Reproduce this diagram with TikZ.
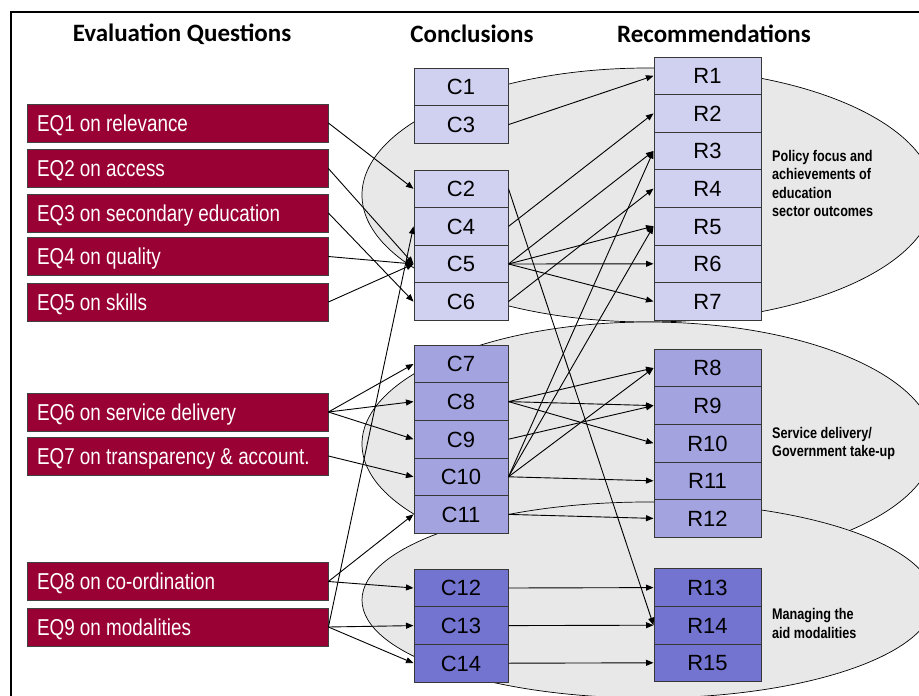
\documentclass[tikz,border=0pt]{standalone}
\usepackage{fontspec}
\setmainfont{Liberation Sans}
\newfontfamily\hdrfont{Carlito}
\newfontfamily\narrowfont{Liberation Sans}[FakeStretch=0.82]
\usetikzlibrary{arrows.meta}
\definecolor{eqred}{RGB}{153,0,51}
\definecolor{cA}{RGB}{208,208,240}
\definecolor{cB}{RGB}{163,163,224}
\definecolor{cC}{RGB}{115,115,208}
\definecolor{ellgray}{RGB}{232,232,232}
\definecolor{boxline}{RGB}{55,55,55}
\newcommand\eqlabel[1]{\makebox[281pt][l]{#1}}
\tikzset{
  header/.style={font=\hdrfont\bfseries\fontsize{25}{30}\selectfont, inner sep=0pt},
  eqbox/.style={draw=black!75, line width=0.8pt, fill=eqred, text=white,
    minimum width=301pt, minimum height=38pt, inner xsep=10pt, inner ysep=0pt,
    text height=16.4pt, text depth=0pt,
    font=\narrowfont\fontsize{23}{27}\selectfont},
  cellbox/.style={draw=boxline, line width=1pt, inner sep=0pt,
    text height=15.8pt, text depth=0pt,
    font=\fontsize{22}{26}\selectfont},
  cbox/.style={cellbox, minimum width=94pt, minimum height=37.6pt},
  rbox/.style={cellbox, minimum width=107pt, minimum height=37.6pt},
  area/.style={draw=black, line width=0.7pt, fill=ellgray},
  sidelabel/.style={anchor=west, inner sep=0pt, align=left,
    font=\narrowfont\bfseries\fontsize{15.4}{18.3}\selectfont},
  arr/.style={draw=black, line width=0.9pt, -{Triangle[length=7.5pt,width=6pt]}}
}
\begin{document}
\begin{tikzpicture}[x=1pt,y=-1pt]
\useasboundingbox (0,0) rectangle (919,696);
\begin{scope}
\clip (0,0) rectangle (919,696);
\fill[white] (0,0) rectangle (919,696);
\draw[line width=1.6pt] (10.8,11.8) rectangle (950,730);
% grouping areas
\path[area] (648,195) ellipse [x radius=286pt, y radius=127pt];
\path[area] (648,444) ellipse [x radius=286pt, y radius=122pt];
\path[area] (648,600) ellipse [x radius=286pt, y radius=98pt];
\end{scope}

% headers
\node[header] (hEQ) at (182,34) {Evaluation Questions};
\node[header] (hC) at (472,34) {Conclusions};
\node[header] (hR) at (714,34) {Recommendations};

% evaluation questions
\node[eqbox] (eq1) at (177.5,123) {\eqlabel{EQ1 on relevance}};
\node[eqbox] (eq2) at (177.5,168.5) {\eqlabel{EQ2 on access}};
\node[eqbox] (eq3) at (177.5,213) {\eqlabel{EQ3 on secondary education}};
\node[eqbox] (eq4) at (177.5,256.5) {\eqlabel{EQ4 on quality}};
\node[eqbox] (eq5) at (177.5,302) {\eqlabel{EQ5 on skills}};
\node[eqbox] (eq6) at (177.5,412) {\eqlabel{EQ6 on service delivery}};
\node[eqbox] (eq7) at (177.5,456) {\eqlabel{EQ7 on transparency \& account.}};
\node[eqbox] (eq8) at (177.5,581.5) {\eqlabel{EQ8 on co-ordination}};
\node[eqbox] (eq9) at (177.5,627) {\eqlabel{EQ9 on modalities}};

% conclusions
\node[cbox, fill=cA] (c1) at (461,87) {C1};
\node[cbox, fill=cA] (c3) at (461,124.6) {C3};
\node[cbox, fill=cA] (c2) at (461,188.8) {C2};
\node[cbox, fill=cA] (c4) at (461,226.4) {C4};
\node[cbox, fill=cA] (c5) at (461,264) {C5};
\node[cbox, fill=cA] (c6) at (461,301.6) {C6};
\node[cbox, fill=cB] (c7) at (461,364) {C7};
\node[cbox, fill=cB] (c8) at (461,401.6) {C8};
\node[cbox, fill=cB] (c9) at (461,439.2) {C9};
\node[cbox, fill=cB] (c10) at (461,476.8) {C10};
\node[cbox, fill=cB] (c11) at (461,514.4) {C11};
\node[cbox, fill=cC] (c12) at (461,588) {C12};
\node[cbox, fill=cC] (c13) at (461,625.6) {C13};
\node[cbox, fill=cC] (c14) at (461,663.2) {C14};

% recommendations
\node[rbox, fill=cA] (r1) at (707.5,75.8) {R1};
\node[rbox, fill=cA] (r2) at (707.5,113.4) {R2};
\node[rbox, fill=cA] (r3) at (707.5,151) {R3};
\node[rbox, fill=cA] (r4) at (707.5,188.6) {R4};
\node[rbox, fill=cA] (r5) at (707.5,226.2) {R5};
\node[rbox, fill=cA] (r6) at (707.5,263.8) {R6};
\node[rbox, fill=cA] (r7) at (707.5,301.4) {R7};
\node[rbox, fill=cB] (r8) at (707.5,368) {R8};
\node[rbox, fill=cB] (r9) at (707.5,405.6) {R9};
\node[rbox, fill=cB] (r10) at (707.5,443.2) {R10};
\node[rbox, fill=cB] (r11) at (707.5,480.8) {R11};
\node[rbox, fill=cB] (r12) at (707.5,518.4) {R12};
\node[rbox, fill=cC] (r13) at (707.5,587.6) {R13};
\node[rbox, fill=cC] (r14) at (707.5,625.2) {R14};
\node[rbox, fill=cC] (r15) at (707.5,662.8) {R15};

% side labels
\node[sidelabel] (l1) at (772,183.5) {Policy focus and\\achievements of\\education\\sector outcomes};
\node[sidelabel] (l2) at (772,443.5) {Service delivery/\\Government take-up};
\node[sidelabel] (l3) at (772,623.5) {Managing the\\aid modalities};

% EQ -> C
\draw[arr] (eq1.east) -- (c2.west);
\draw[arr] (eq2.east) -- (c5.west);
\draw[arr] (eq3.east) -- (c6.west);
\draw[arr] (eq4.east) -- (c5.west);
\draw[arr] (eq5.east) -- (c5.west);
\draw[arr] (eq6.east) -- (c7.west);
\draw[arr] (eq6.east) -- (c8.west);
\draw[arr] (eq6.east) -- (c9.west);
\draw[arr] (eq7.east) -- (c10.west);
\draw[arr] (eq8.east) -- (c11.west);
\draw[arr] (eq8.east) -- (c12.west);
\draw[arr] (eq9.east) -- (c4.west);
\draw[arr] (eq9.east) -- (c13.west);
\draw[arr] (eq9.east) -- (c14.west);

% C -> R
\draw[arr] (c3.east) -- (r1.west);
\draw[arr] (c4.east) -- (r2.west);
\draw[arr] (c5.east) -- (r3.west);
\draw[arr] (c5.east) -- (r5.west);
\draw[arr] (c5.east) -- (r6.west);
\draw[arr] (c5.east) -- (r7.west);
\draw[arr] (c6.east) -- (r4.west);
\draw[arr] (c2.east) -- (r14.west);
\draw[arr] (c8.east) -- (r8.west);
\draw[arr] (c8.east) -- (r9.west);
\draw[arr] (c8.east) -- (r10.west);
\draw[arr] (c9.east) -- (r9.west);
\draw[arr] (c10.east) -- (r8.west);
\draw[arr] (c10.east) -- (r3.west);
\draw[arr] (c10.east) -- (r5.west);
\draw[arr] (c10.east) -- (r11.west);
\draw[arr] (c11.east) -- (r12.west);
\draw[arr] (c12.east) -- (r13.west);
\draw[arr] (c13.east) -- (r14.west);
\draw[arr] (c14.east) -- (r15.west);
\end{tikzpicture}
\end{document}
